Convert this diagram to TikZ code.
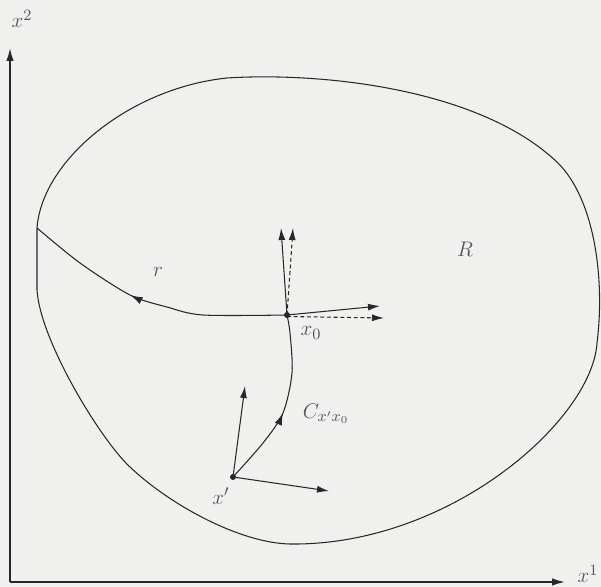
\documentclass[tikz,border=0pt]{standalone}
\usetikzlibrary{arrows.meta,decorations.markings}
\definecolor{bg}{RGB}{240,240,238}
\definecolor{ink}{RGB}{40,40,40}
\definecolor{lab}{RGB}{85,85,90}
\begin{document}
\begin{tikzpicture}[x=0.02cm,y=-0.02cm,
  line/.style={draw=ink,line width=0.6pt},
  vec/.style={line,-{Latex[length=2.4mm,width=1.4mm]}},
  dvec/.style={vec,dash pattern=on 2.2pt off 1.6pt},
  lbl/.style={text=lab,font=\fontsize{13}{15}\selectfont,inner sep=0pt},
  pt/.style={circle,fill=ink,inner sep=0pt,minimum size=1.2mm},
  midarrow/.style={decoration={markings,mark=at position #1 with {\arrow{Latex[length=2.4mm,width=1.5mm]}}},postaction={decorate}}]
\fill[bg] (0,0) rectangle (601,587);
\useasboundingbox (0,0) rectangle (601,587);
% axes
\coordinate (O) at (10,582);
\coordinate (Y) at (10,48);
\coordinate (X) at (565,582);
\draw[line,line width=0.9pt,-{Latex[length=2.6mm,width=1.5mm]}] (O) -- (Y);
\draw[line,line width=0.9pt,-{Latex[length=2.6mm,width=1.5mm]}] (O) -- (X);
\node[lbl] (lx2) at (22,19) {$x^2$};
\node[lbl] (lx1) at (588,574) {$x^1$};
% region boundary
\coordinate (B) at (37,228);
\draw[line] (37,228) .. controls (42,160) and (130,88) .. (227,78)
  .. controls (320,72) and (480,88) .. (558,163)
  .. controls (595,200) and (605,280) .. (597,343)
  .. controls (592,420) and (450,546) .. (290,544)
  .. controls (240,543) and (170,505) .. (130,467)
  .. controls (100,439) and (40,340) .. (37,290) -- cycle;
\node[lbl] (lR) at (465,249) {$R$};
% points
\coordinate (x0) at (287,315);
\coordinate (xp) at (233,477);
% curve r
\draw[line,midarrow=0.58] plot[smooth,tension=0.5] coordinates {(287,315) (203,315) (167,307) (130,295) (80,263) (37,228)};
\node[lbl] (lr) at (158,272) {$r$};
% curve C
\draw[line,midarrow=0.45] plot[smooth,tension=0.5] coordinates {(233,477) (263,443) (283,413) (292,373) (290,333) (287,315)};
\node[lbl] (lC) at (326,414) {$C_{x'x_0}$};
% vectors at x0
\coordinate (v1) at (281,228);
\coordinate (v2) at (293,228);
\coordinate (h1) at (380,306);
\coordinate (h2) at (384,318);
\draw[vec] (x0) -- (v1);
\draw[dvec] (x0) -- (v2);
\draw[vec] (x0) -- (h1);
\draw[dvec] ([yshift=-0.3mm]x0) -- (h2);
% vectors at x'
\coordinate (u1) at (245,386);
\coordinate (u2) at (329,491);
\draw[vec] (xp) -- (u1);
\draw[vec] (xp) -- (u2);
\node[pt] (p0) at (x0) {};
\node[pt] (pp) at (xp) {};
\node[lbl] (lx0) at (311,333) {$x_0$};
\node[lbl] (lxp) at (221,496) {$x'$};
\end{tikzpicture}
\end{document}
